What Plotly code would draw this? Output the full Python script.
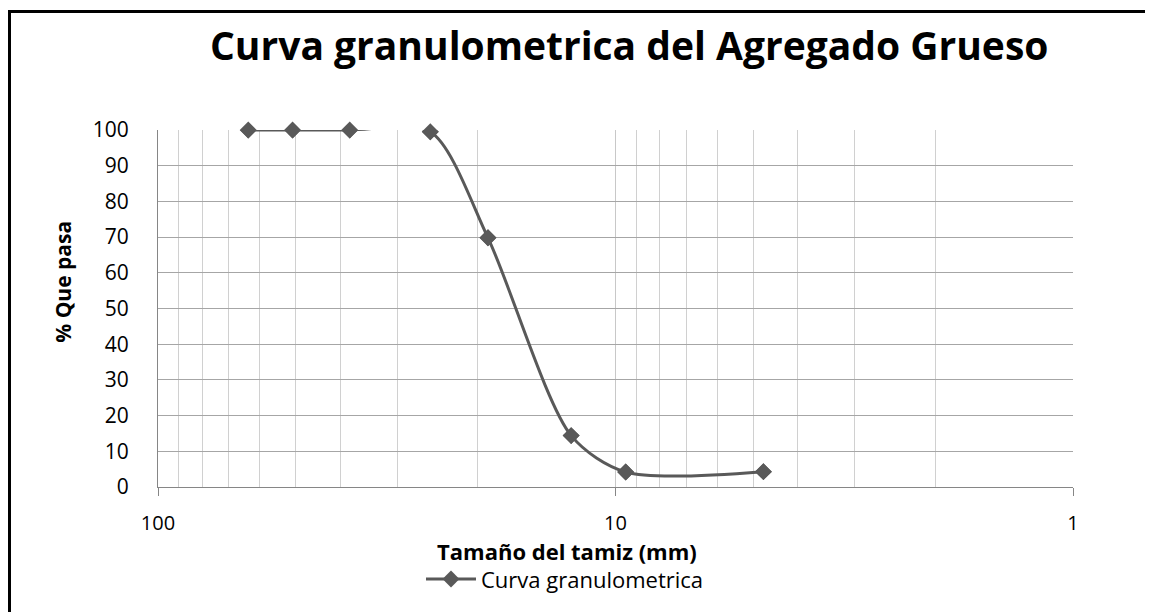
import plotly.graph_objects as go

# ---- data ----
sieve_mm = [63.5, 50.8, 38.1, 25.4, 19.0, 12.5, 9.5, 4.75]
pct_passing = [100, 100, 100, 99.5, 69.8, 14.4, 4.2, 4.3]
series_name = "Curva granulometrica"

x_tick_vals = [100, 10, 1]
x_tick_text = ["100", "10", "1"]
x_minor_vals = [90, 80, 70, 60, 50, 40, 30, 20, 9, 8, 7, 6, 5, 4, 3, 2]
y_tick_vals = [0, 10, 20, 30, 40, 50, 60, 70, 80, 90, 100]

title_text = "Curva granulometrica del Agregado Grueso"
x_title = "Tamaño del tamiz (mm)"
y_title = "% Que pasa"

FONT = "Open Sans, Carlito, Calibri, sans-serif"
SERIES_COLOR = "#595959"

# page body has an 8px default margin; compensate so the plot lands where the reference has it
OFF = 8
W, H = 1153 - OFF, 612 - OFF
PL, PT, PW, PH = 158, 130, 915, 360   # plot area in screen pixels


def px(sx):
    return (sx - PL) / PW


def py(sy):
    return (PT + PH - sy) / PH


fig = go.Figure()

fig.add_trace(go.Scatter(
    x=sieve_mm, y=pct_passing, name=series_name,
    mode="lines+markers",
    line=dict(color=SERIES_COLOR, width=3, shape="spline", smoothing=0.8),
    marker=dict(symbol="diamond", size=13, color=SERIES_COLOR),
    cliponaxis=True, showlegend=True,
))
fig.add_trace(go.Scatter(
    x=sieve_mm, y=pct_passing, name=series_name,
    mode="markers",
    marker=dict(symbol="diamond", size=13, color=SERIES_COLOR),
    cliponaxis=False, showlegend=False, hoverinfo="skip",
))

fig.update_layout(
    width=W, height=H,
    margin=dict(l=PL - OFF, r=W - (PL - OFF) - PW, t=PT - OFF, b=H - (PT - OFF) - PH),
    paper_bgcolor="white", plot_bgcolor="white",
    font=dict(family=FONT, color="black", size=20),
    legend=dict(
        orientation="h", x=px(565), xanchor="center", y=py(583), yanchor="middle",
        font=dict(family=FONT, size=22, color="black"),
        bgcolor="rgba(0,0,0,0)", itemwidth=50,
    ),
    showlegend=True,
)

fig.update_xaxes(
    type="log", range=[2, 0],
    tickmode="array", tickvals=x_tick_vals, ticktext=x_tick_text,
    showgrid=True, gridcolor="#C8C8C8", gridwidth=1,
    minor=dict(tickmode="array", tickvals=x_minor_vals, showgrid=True,
               gridcolor="#D0D0D0", gridwidth=1, ticks=""),
    showline=True, linecolor="#868686", linewidth=1,
    ticks="outside", ticklen=8, tickcolor="#868686",
    ticklabelstandoff=10,
    tickfont=dict(family=FONT, size=20, color="black"),
    zeroline=False, mirror=False,
)
fig.update_yaxes(
    range=[0, 100], tickmode="array", tickvals=y_tick_vals,
    showgrid=True, gridcolor="#A6A6A6", gridwidth=1,
    showline=True, linecolor="#868686", linewidth=1,
    ticks="", ticklabelstandoff=24,
    tickfont=dict(family=FONT, size=21, color="black"),
    zeroline=False,
)

# chart title
fig.add_annotation(
    text=f"<b>{title_text}</b>", xref="paper", yref="paper",
    x=px(628.5), y=py(44), xanchor="center", yanchor="middle",
    showarrow=False, font=dict(family=FONT, size=39, color="black"),
)
# axis titles placed as in the reference
fig.add_annotation(
    text=f"<b>{x_title}</b>", xref="paper", yref="paper",
    x=px(567), y=py(555), xanchor="center", yanchor="middle",
    showarrow=False, font=dict(family=FONT, size=22, color="black"),
)
fig.add_annotation(
    text=f"<b>{y_title}</b>", xref="paper", yref="paper",
    x=px(63), y=py(283), xanchor="center", yanchor="middle",
    textangle=-90, showarrow=False, font=dict(family=FONT, size=21, color="black"),
)

# chart frame (left and top edges visible in the reference)
fig.add_shape(type="line", xref="paper", yref="paper",
              x0=px(8.5), x1=px(8.5), y0=py(9), y1=py(640),
              line=dict(color="black", width=5), layer="above")
fig.add_shape(type="line", xref="paper", yref="paper",
              x0=px(6), x1=px(1180), y0=py(10.5), y1=py(10.5),
              line=dict(color="black", width=3), layer="above")

fig.write_html("out.html")
